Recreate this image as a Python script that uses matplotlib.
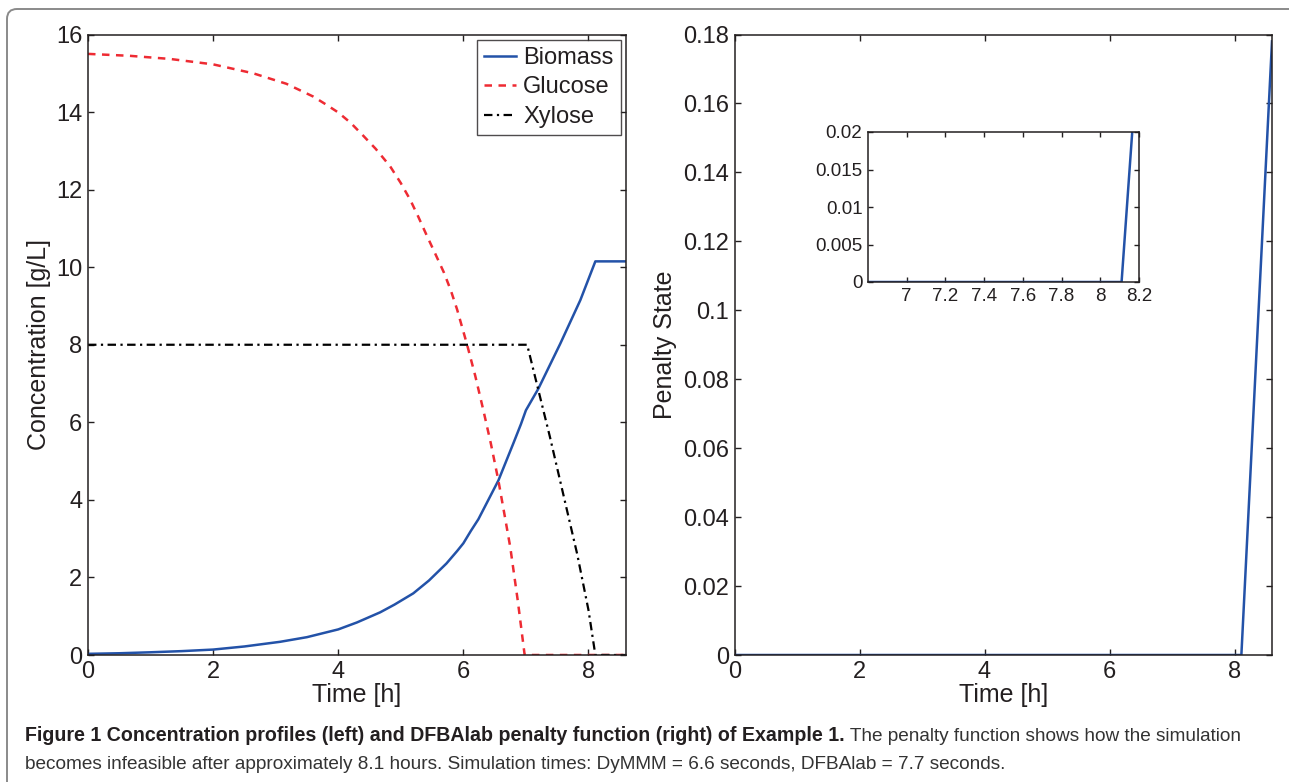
import numpy as np
import matplotlib
matplotlib.use("Agg")
import matplotlib.pyplot as plt
from matplotlib import font_manager
from matplotlib.patches import FancyBboxPatch
from matplotlib.transforms import IdentityTransform
from matplotlib.ticker import FormatStrFormatter

W, H = 1289, 782

# concentration profiles
time_glc = [0, 0.67, 1.31, 2.0, 2.64, 3.17, 3.6, 3.8, 4.0, 4.2, 4.4, 4.6, 4.83,
            5.0, 5.15, 5.28, 5.42, 5.55, 5.69, 5.8, 5.9, 6.06, 6.19, 6.32, 6.44,
            6.56, 6.66, 6.75, 6.87, 6.98, 8.6]
glucose = [15.5, 15.45, 15.37, 15.23, 15.0, 14.73, 14.4, 14.2, 13.99, 13.72,
           13.39, 13.05, 12.6, 12.17, 11.74, 11.3, 10.8, 10.35, 9.86, 9.4, 8.91,
           8.0, 7.2, 6.31, 5.45, 4.5, 3.6, 2.78, 1.4, 0.0, 0.0]

time_bio = [0, 0.5, 1, 1.5, 2, 2.5, 3.07, 3.5, 4.0, 4.3, 4.67, 4.9, 5.2, 5.45,
            5.73, 5.9, 6.0, 6.12, 6.24, 6.4, 6.56, 6.68, 6.8, 6.92, 7.0, 7.2,
            7.55, 7.87, 8.11, 8.6]
biomass = [0.03, 0.045, 0.07, 0.1, 0.14, 0.22, 0.34, 0.46, 0.66, 0.84, 1.1,
           1.3, 1.59, 1.92, 2.36, 2.68, 2.88, 3.2, 3.5, 4.0, 4.5, 4.98, 5.46,
           5.95, 6.31, 6.87, 8.03, 9.15, 10.15, 10.15]

time_xyl = [0, 7.02, 7.38, 7.82, 8.0, 8.11, 8.6]
xylose = [8.0, 8.0, 5.65, 2.6, 1.16, 0.0, 0.0]

# penalty state
time_pen = [0, 8.11, 8.6]
penalty = [0, 0, 0.178]

blue = "#2352a8"
red = "#ee2b33"
ink = "#231f20"

names = {f.name for f in font_manager.fontManager.ttflist}
tick_font = "Liberation Sans" if "Liberation Sans" in names else "DejaVu Sans"
cap_font = "Liberation Sans Narrow" if "Liberation Sans Narrow" in names else tick_font

plt.rcParams["font.family"] = tick_font
plt.rcParams["axes.edgecolor"] = ink
plt.rcParams["axes.linewidth"] = 1.1


def px_axes(fig, left, top, right, bottom):
    return fig.add_axes([left / W, 1 - bottom / H, (right - left) / W, (bottom - top) / H])


def style(ax, size, length=4.5, pad=4):
    ax.tick_params(direction="in", top=True, right=True, length=length, width=1,
                   color=ink, labelcolor=ink, labelsize=size, pad=pad)


fig = plt.figure(figsize=(W / 100, H / 100), dpi=100)

# ---- left: concentrations
ax1 = px_axes(fig, 88, 34.5, 626, 655)
ax1.plot(time_bio, biomass, color=blue, lw=1.8, label="Biomass")
ax1.plot(time_glc, glucose, color=red, lw=1.8, dashes=(3.0, 2.6), label="Glucose")
ax1.plot(time_xyl, xylose, color="black", lw=1.6, dashes=(3.8, 2.0, 1.0, 2.0), label="Xylose")
ax1.set_xlim(0, 8.6)
ax1.set_ylim(0, 16)
ax1.set_xticks(np.arange(0, 9, 2))
ax1.set_yticks(np.arange(0, 17, 2))
style(ax1, 17)
ax1.set_xlabel("Time [h]", fontsize=18, color=ink, labelpad=0)
ax1.set_ylabel("Concentration [g/L]", fontsize=18, color=ink, labelpad=4)
leg = ax1.legend(loc="upper right", fontsize=17, frameon=True, fancybox=False,
                 borderaxespad=0.22, handlelength=1.35, handletextpad=0.3,
                 labelspacing=0.32, borderpad=0.3)
leg.get_frame().set_edgecolor(ink)
leg.get_frame().set_linewidth(1.0)
for t in leg.get_texts():
    t.set_color(ink)

# ---- right: penalty
ax2 = px_axes(fig, 734.5, 34.5, 1272, 655)
ax2.plot(time_pen, penalty, color=blue, lw=1.8)
ax2.set_xlim(0, 8.6)
ax2.set_ylim(0, 0.18)
ax2.set_xticks(np.arange(0, 9, 2))
ax2.set_yticks(np.arange(0, 0.181, 0.02))
ax2.yaxis.set_major_formatter(FormatStrFormatter("%g"))
style(ax2, 17)
ax2.set_xlabel("Time [h]", fontsize=18, color=ink, labelpad=0)
ax2.set_ylabel("Penalty State", fontsize=18, color=ink, labelpad=4)

# inset zoom on the penalty onset
ax3 = px_axes(fig, 868, 132, 1139, 282)
ax3.plot(time_pen, penalty, color=blue, lw=1.8)
ax3.set_xlim(6.8, 8.2)
ax3.set_ylim(0, 0.02)
ax3.set_xticks(np.arange(7, 8.21, 0.2))
ax3.set_yticks(np.arange(0, 0.0201, 0.005))
ax3.xaxis.set_major_formatter(FormatStrFormatter("%g"))
ax3.yaxis.set_major_formatter(FormatStrFormatter("%g"))
style(ax3, 13.5, length=3.5, pad=4)

# ---- figure frame
frame = FancyBboxPatch((7, -40), 1320, H - 9 + 40, boxstyle="round,pad=0,rounding_size=10",
                       transform=IdentityTransform(), fill=False, edgecolor="#8a8a8a",
                       linewidth=1.4, clip_on=False)
fig.add_artist(frame)

# ---- caption, fitted to the reference line widths
bold_part = "Figure 1 Concentration profiles (left) and DFBAlab penalty function (right) of Example 1."
rest_1 = " The penalty function shows how the simulation"
line_2 = ("becomes infeasible after approximately 8.1 hours. Simulation times: "
          "DyMMM = 6.6 seconds, DFBAlab = 7.7 seconds.")

renderer = fig.canvas.get_renderer()


def text_width(s, size, weight="normal"):
    probe = fig.text(0, 0, s, fontsize=size, fontweight=weight, family=cap_font)
    w = probe.get_window_extent(renderer).width
    probe.remove()
    return w


fs_reg = 13 * 980 / text_width(line_2, 13)
rest_w = text_width(rest_1, fs_reg)
fs_bold = 13 * (1215 - rest_w) / text_width(bold_part, 13, "bold")

tb = fig.text(25 / W, 1 - 741 / H, bold_part, fontsize=fs_bold, fontweight="bold",
              family=cap_font, color=ink, va="baseline")
bw = tb.get_window_extent(renderer).width
fig.text((25 + bw) / W, 1 - 741 / H, rest_1, fontsize=fs_reg, family=cap_font,
         color="#333333", va="baseline")
fig.text(25 / W, 1 - 769 / H, line_2, fontsize=fs_reg, family=cap_font,
         color="#333333", va="baseline")

fig.savefig("out.png", dpi=100)
